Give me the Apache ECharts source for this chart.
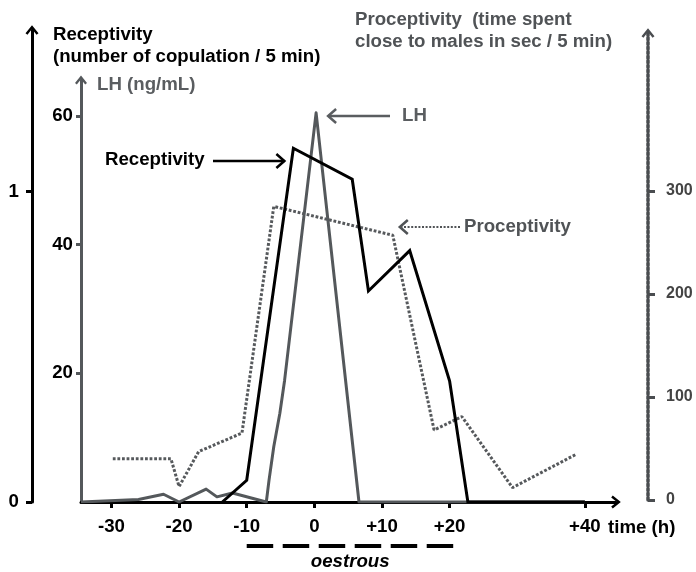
<!DOCTYPE html>
<html><head><meta charset="utf-8">
<script src="https://cdn.jsdelivr.net/npm/echarts@6/dist/echarts.min.js"></script>
<style>html,body{margin:0;padding:0;background:#fff}#c{width:696px;height:572px}</style>
</head><body><div id="c"></div>
<script>
// ---- data (time in hours relative to the LH peak) ----
const xTicks = [-30, -20, -10, 0, 10, 20, 40];
const lhTicks = [20, 40, 60];
const recTicks = [0, 1];
const proTicks = [0, 100, 200, 300];

const receptivityTime  = [-13.6, -10, -3.1, 5.6, 8.0, 14.1, 20, 22.7, 40];
const receptivityValue = [0, 0.07, 1.14, 1.04, 0.68, 0.81, 0.39, 0, 0];

const lhTime  = [-34.5, -26, -22.3, -20, -16, -14.4, -12.1, -7.1, -6.7, -6.0, -5.1, -4.4, 0.26, 6.6, 40];
const lhValue = [0, 0.4, 1.2, 0, 2.0, 0.8, 1.4, 0, 3.4, 8.6, 13.8, 18.9, 60.5, 0, 0];

const proceptivityTime  = [-29.8, -21.2, -20, -17.1, -10.7, -6, 11.6, 17.7, 21.8, 29.3, 38.6];
const proceptivityValue = [40, 40, 13, 47, 65, 285, 257, 68, 81, 12, 44];

// ---- chart ----
const FONT = '"Liberation Sans", Arial, sans-serif';
const FS = 18.67;
const X_MIN = -34.5, X_MAX = 44.6;
const GREY = '#54585b';
const CHEV = 'path://M50,0 L100,62 L85,74 L50,30 L15,74 L0,62 Z';
const zip = (a, b) => a.map((v, i) => [v, b[i]]);

const labelBase = {color: '#000', fontWeight: 'bold', fontSize: FS, fontFamily: FONT};

const option = {
  animation: false,
  backgroundColor: '#fff',
  grid: [
    {left: 81, right: 80, top: 80, bottom: 70},
    {left: 81, right: 80, top: 30, bottom: 70},
    {left: 81, right: 80, top: 33, bottom: 72}
  ],
  xAxis: [
    {gridIndex: 0, type: 'value', min: X_MIN, max: X_MAX,
     axisLine: {show: true, onZero: false, lineStyle: {color: '#000', width: 3},
                symbol: ['none', CHEV], symbolSize: [13, 11]},
     axisTick: {show: true, customValues: xTicks, length: 6, lineStyle: {color: '#000', width: 3}},
     axisLabel: Object.assign({customValues: xTicks, margin: 15,
                formatter: v => (v > 0 ? '+' + v : String(v))}, labelBase),
     splitLine: {show: false}},
    {gridIndex: 1, type: 'value', min: X_MIN, max: X_MAX, show: false},
    {gridIndex: 2, type: 'value', min: X_MIN, max: X_MAX, show: false}
  ],
  yAxis: [
    {gridIndex: 0, type: 'value', min: 0, max: 65.6, position: 'left',
     axisLine: {show: true, onZero: false, lineStyle: {color: GREY, width: 3},
                symbol: ['none', CHEV], symbolSize: [12, 10]},
     axisTick: {show: true, customValues: lhTicks, length: 5, lineStyle: {color: GREY, width: 3}},
     axisLabel: Object.assign({customValues: lhTicks, margin: 8}, labelBase),
     splitLine: {show: false}},
    {gridIndex: 1, type: 'value', min: 0, max: 1.521, position: 'left', offset: 49,
     axisLine: {show: true, onZero: false, lineStyle: {color: '#000', width: 3},
                symbol: ['none', CHEV], symbolSize: [13, 11]},
     axisTick: {show: true, customValues: recTicks, length: 6, lineStyle: {color: '#000', width: 3}},
     axisLabel: Object.assign({customValues: recTicks, margin: 13}, labelBase),
     splitLine: {show: false}},
    {gridIndex: 2, type: 'value', min: 0, max: 453.4, position: 'right', offset: 32,
     axisLine: {show: true, onZero: false, lineStyle: {color: '#4a4d50', width: 3.5, type: [2.4, 2.2]},
                symbol: ['none', CHEV], symbolSize: [13, 11]},
     axisTick: {show: true, customValues: proTicks, length: 7, lineStyle: {color: '#4a4d50', width: 3}},
     axisLabel: {customValues: proTicks, margin: 18, color: '#444', fontWeight: 'bold', fontSize: 16, fontFamily: FONT},
     splitLine: {show: false}}
  ],
  series: [
    {name: 'Proceptivity', type: 'line', xAxisIndex: 2, yAxisIndex: 2, symbol: 'none', z: 2,
     data: zip(proceptivityTime, proceptivityValue),
     lineStyle: {color: '#56595c', width: 3, type: [2.8, 1.8]}},
    {name: 'LH', type: 'line', xAxisIndex: 0, yAxisIndex: 0, symbol: 'none', z: 3,
     data: zip(lhTime, lhValue),
     lineStyle: {color: GREY, width: 3, join: 'round'}},
    {name: 'Receptivity', type: 'line', xAxisIndex: 1, yAxisIndex: 1, symbol: 'none', z: 4,
     data: zip(receptivityTime, receptivityValue),
     lineStyle: {color: '#000', width: 3, join: 'miter', miterLimit: 4}}
  ]
};

const chart = echarts.init(document.getElementById('c'), null, {renderer: 'canvas'});
chart.setOption(option);

// ---- annotations anchored to data points ----
const toPx = (i, x, y) => chart.convertToPixel({xAxisIndex: i, yAxisIndex: i}, [x, y]);
const text = (x, y, t, extra) => ({type: 'text', x, y, silent: true, z: 100,
  style: Object.assign({text: t, font: 'bold ' + FS + 'px ' + FONT, fill: '#000',
    align: 'left', verticalAlign: 'middle'}, extra || {})});
const hline = (x1, x2, y, color, width, dash) => ({type: 'line', silent: true, z: 100,
  shape: {x1, y1: y, x2, y2: y}, style: {stroke: color, lineWidth: width, lineDash: dash || null}});
const chevron = (tipX, y, dir, color) => ({type: 'polyline', silent: true, z: 100,
  shape: {points: [[tipX - dir * 8, y - 7], [tipX, y], [tipX - dir * 8, y + 7]]},
  style: {stroke: color, lineWidth: 2.5, fill: null}});

const recPeak = toPx(1, receptivityTime[2], receptivityValue[2]);
const lhPeak = toPx(0, lhTime[12], lhValue[12]);
const proKnee = toPx(2, proceptivityTime[6], proceptivityValue[6]);
const oStart = toPx(0, -10, 0), oEnd = toPx(0, 20.6, 0);

const recTip = recPeak[0] - 9, lhTip = lhPeak[0] + 12, proTip = proKnee[0] + 7;

const graphics = [
  text(53, 46, 'Receptivity\n(number of copulation / 5 min)', {lineHeight: 22}),
  text(97, 85, 'LH (ng/mL)', {fill: '#5a5d60'}),
  text(355, 31, 'Proceptivity  (time spent\nclose to males in sec / 5 min)', {lineHeight: 22, fill: '#505356'}),
  text(608, 528, 'time (h)'),
  text(105, 160, 'Receptivity'),
  hline(213, recTip, 161, '#000', 2.5),
  chevron(recTip, 161, 1, '#000'),
  text(402, 116, 'LH', {fill: '#5a5d60'}),
  hline(390, lhTip, 116, '#5a5d60', 2.5),
  chevron(lhTip, 116, -1, '#5a5d60'),
  text(464, 227, 'Proceptivity', {fill: '#505356'}),
  hline(460, proTip, 227, '#505356', 2.2, [2, 1.6]),
  chevron(proTip, 227, -1, '#505356'),
  hline(oStart[0], oEnd[0], 546, '#000', 4, [26.5, 9.5]),
  text((oStart[0] + oEnd[0]) / 2, 562, 'oestrous', {align: 'center', font: 'italic bold ' + FS + 'px ' + FONT})
];
chart.setOption({graphic: graphics});
</script>
</body></html>
